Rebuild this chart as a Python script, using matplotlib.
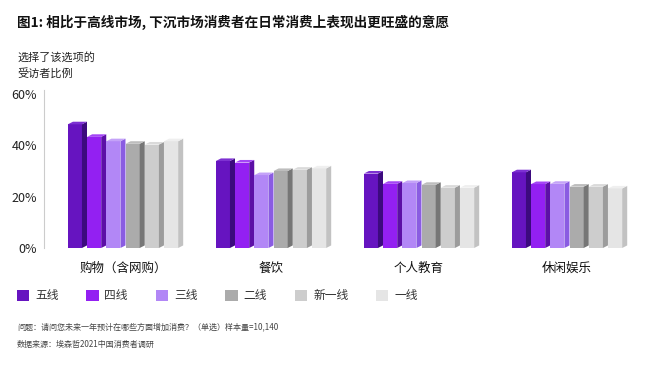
import numpy as np
import matplotlib
matplotlib.use('Agg')
from matplotlib import pyplot as plt
from matplotlib.patches import Polygon, Patch

plt.rcParams['font.family'] = ['Noto Sans CJK SC', 'DejaVu Sans']

categories = ['购物（含网购）', '餐饮', '个人教育', '休闲娱乐']
series = ['五线', '四线', '三线', '二线', '新一线', '一线']
values = {
    '五线':   [48.2, 33.9, 29.0, 29.5],
    '四线':   [43.3, 33.3, 25.0, 24.9],
    '三线':   [41.6, 28.4, 25.3, 25.0],
    '二线':   [40.6, 30.0, 24.6, 23.9],
    '新一线': [40.3, 30.5, 23.5, 23.9],
    '一线':   [41.6, 31.0, 23.5, 23.2],
}
yticks = [0, 20, 40, 60]
ytick_labels = ['0%', '20%', '40%', '60%']

front = ['#6614c0', '#9320f2', '#b287f6', '#ababab', '#cdcdcd', '#e5e5e5']
side = ['#3c0a7e', '#5c0fa6', '#8a5ce2', '#767676', '#9c9c9c', '#c2c2c2']
top = ['#7d30d2', '#a445f5', '#c4a2f8', '#bdbdbd', '#dadada', '#efefef']

W, H = 660, 365
fig = plt.figure(figsize=(W / 100, H / 100), dpi=100)
# axes: x 44..640 px, y 0% at 248 px, 61.5% at top
ymax = 61.5
px_per = (248 - 94) / 60
ax_top = 248 - ymax * px_per
ax = fig.add_axes([44 / W, (H - 248) / H, (640 - 44) / W, (248 - ax_top) / H])

pitch = 0.13
bw = 0.095
dx = 0.034
dy = 1.0
x = np.arange(len(categories))
for i, s in enumerate(series):
    xs = x + (i - 2.5) * pitch - bw / 2
    v = values[s]
    ax.bar(xs, v, width=bw, align='edge', color=front[i], zorder=3)
    for xi, vi in zip(xs, v):
        ax.add_patch(Polygon([(xi + bw, 0), (xi + bw + dx, dy), (xi + bw + dx, vi + dy), (xi + bw, vi)],
                             closed=True, facecolor=side[i], edgecolor='none', zorder=3))
        ax.add_patch(Polygon([(xi, vi), (xi + dx, vi + dy), (xi + bw + dx, vi + dy), (xi + bw, vi)],
                             closed=True, facecolor=top[i], edgecolor='none', zorder=3))

ax.set_xlim(-0.534, 3.493)
ax.set_ylim(0, ymax)
ax.set_yticks(yticks)
ax.set_yticklabels(ytick_labels, fontsize=9, color='#222222')
ax.set_xticks(x)
ax.set_xticklabels(categories, fontsize=9, color='#111111')
ax.tick_params(axis='y', length=0, pad=5)
ax.tick_params(axis='x', length=0, pad=10)
for sp in ['top', 'right', 'bottom']:
    ax.spines[sp].set_visible(False)
ax.spines['left'].set_color('#cccccc')
ax.spines['left'].set_linewidth(0.8)

fig.text(17 / W, 1 - 22 / H, '图1: 相比于高线市场, 下沉市场消费者在日常消费上表现出更旺盛的意愿',
         fontsize=9.8, fontweight='bold', va='center', ha='left', color='#111111')
fig.text(17 / W, 1 - 57 / H, '选择了该选项的', fontsize=8, va='center', ha='left', color='#222222')
fig.text(17 / W, 1 - 73 / H, '受访者比例', fontsize=8, va='center', ha='left', color='#222222')

handles = [Patch(facecolor=front[i], edgecolor='none', label=s) for i, s in enumerate(series)]
fig.legend(handles=handles, loc='center left', bbox_to_anchor=(6 / W, 1 - 296 / H), ncol=6,
           frameon=False, fontsize=8.5, handlelength=1.05, handleheight=0.95,
           handletextpad=0.5, columnspacing=2.35, labelcolor='#333333')

fig.text(17 / W, 1 - 327 / H, '问题：请问您未来一年预计在哪些方面增加消费？（单选）样本量=10,140',
         fontsize=5.8, va='center', ha='left', color='#444444')
fig.text(17 / W, 1 - 344 / H, '数据来源：埃森哲2021中国消费者调研',
         fontsize=5.8, va='center', ha='left', color='#444444')

fig.savefig('out.png', dpi=100)
